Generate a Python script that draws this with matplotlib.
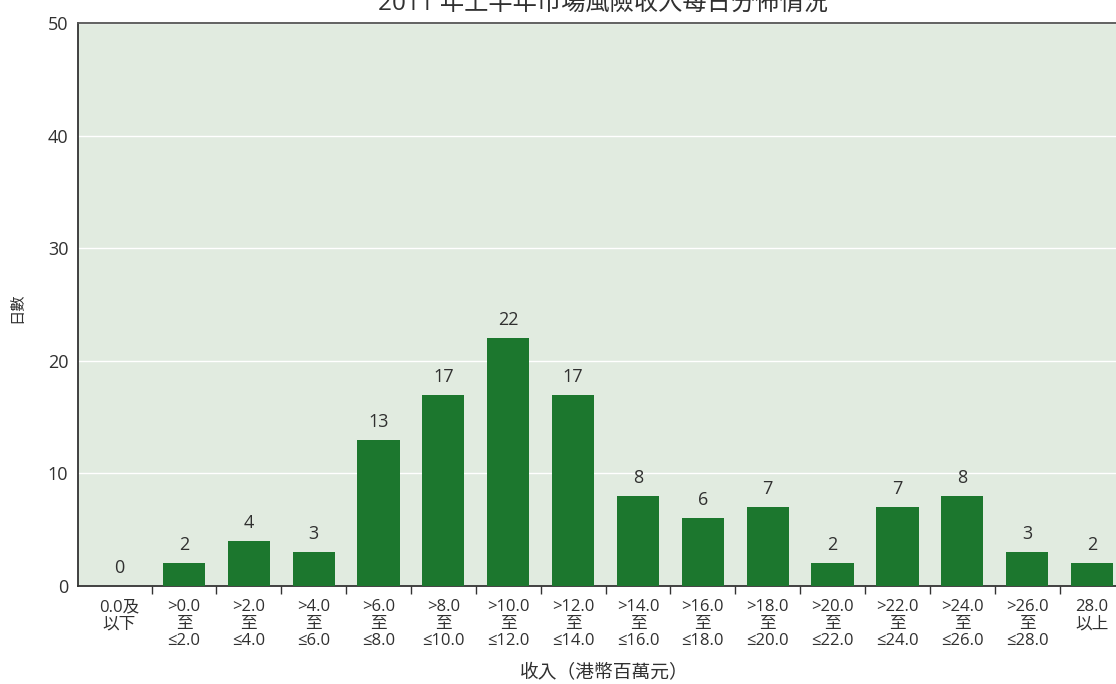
import matplotlib
matplotlib.use("Agg")
import matplotlib.pyplot as plt
import numpy as np

plt.rcParams['font.family'] = ['Open Sans', 'Noto Sans CJK TC', 'DejaVu Sans']

title = "2011 年上半年市場風險收入每日分佈情況"
categories = ["0.0及\n以下", ">0.0\n至\n≤2.0", ">2.0\n至\n≤4.0", ">4.0\n至\n≤6.0",
              ">6.0\n至\n≤8.0", ">8.0\n至\n≤10.0", ">10.0\n至\n≤12.0", ">12.0\n至\n≤14.0",
              ">14.0\n至\n≤16.0", ">16.0\n至\n≤18.0", ">18.0\n至\n≤20.0", ">20.0\n至\n≤22.0",
              ">22.0\n至\n≤24.0", ">24.0\n至\n≤26.0", ">26.0\n至\n≤28.0", "28.0\n以上"]
values = [0, 2, 4, 3, 13, 17, 22, 17, 8, 6, 7, 2, 7, 8, 3, 2]
yticks = [0, 10, 20, 30, 40, 50]
xlabel = "收入（港幣百萬元）"
ylabel = "日數"

W, H = 1116, 684
fig = plt.figure(figsize=(W / 100, H / 100), dpi=100)
ax = fig.add_axes([78 / W, (H - 586) / H, (1116 - 78) / W, (586 - 23) / H])

bg = "#E1EBE0"
bar_color = "#1C772E"
txt = "#303030"

ax.set_facecolor(bg)
x = np.arange(len(values))
ax.bar(x, values, width=0.65, color=bar_color, zorder=3)
for xi, v in zip(x, values):
    ax.text(xi, v + 0.8, str(v), ha="center", va="bottom", fontsize=13, color=txt,
            zorder=4)

ax.set_xlim(-0.634, 15.37)
ax.set_ylim(0, 50)
ax.set_yticks(yticks)
ax.set_yticklabels([str(t) for t in yticks], fontsize=13, color=txt)
ax.tick_params(axis="y", length=0, pad=7)
ax.yaxis.grid(True, color="white", linewidth=1.0, zorder=1)
ax.set_axisbelow(True)

ax.set_xticks(x)
ax.set_xticklabels(categories, fontsize=12, color=txt, linespacing=1.08)
ax.tick_params(axis="x", which="major", length=0, pad=9.5)
ax.set_xticks(np.arange(0.5, 15, 1.0), minor=True)
ax.tick_params(axis="x", which="minor", length=6, width=1.0, color="#333333", direction="out")

for s in ["left", "bottom"]:
    ax.spines[s].set_color("#333333")
    ax.spines[s].set_linewidth(1.3)
ax.spines["top"].set_color("#555555")
ax.spines["top"].set_linewidth(1.3)
ax.spines["right"].set_visible(False)

fig.text(603 / W, 1 - 4 / H, title, ha="center", va="center", fontsize=17.5, color=txt)
fig.text(604 / W, 1 - 673 / H, xlabel, ha="center", va="center", fontsize=13.5, color=txt)
fig.text(18 / W, 1 - 308 / H, ylabel, ha="center", va="center", rotation=90, fontsize=11,
         color=txt)

fig.savefig("out.png", dpi=100, facecolor="white")
